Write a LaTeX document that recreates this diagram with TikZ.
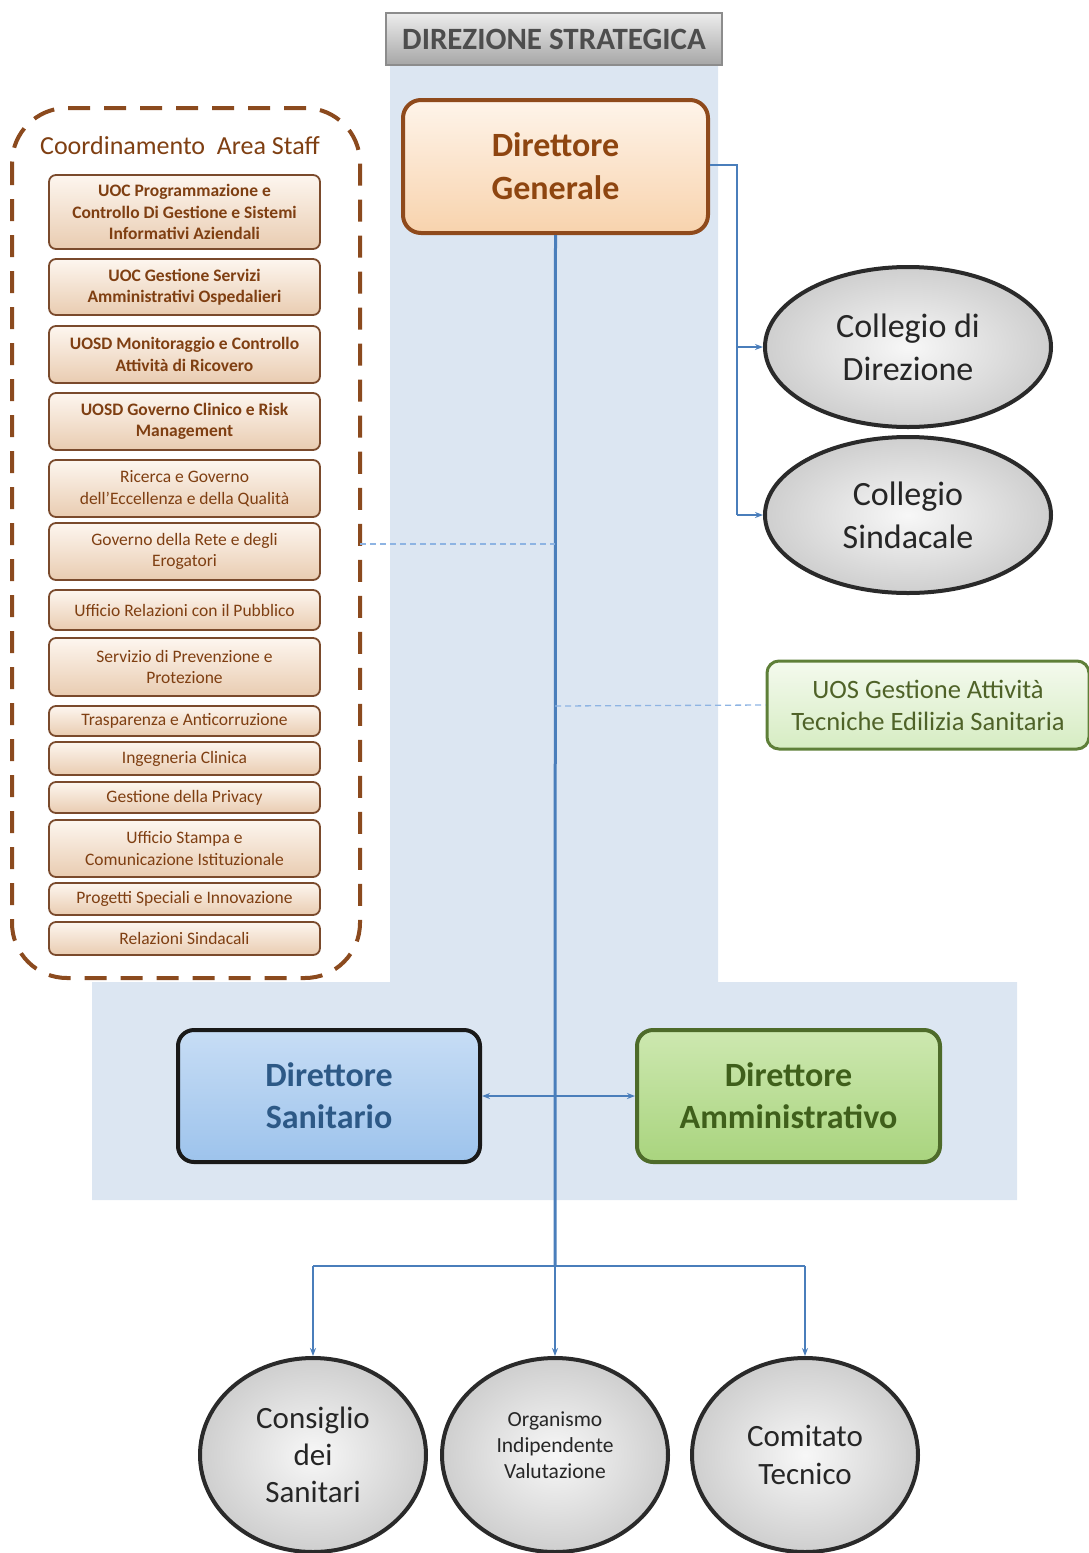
\documentclass[tikz,border=0pt]{standalone}
\usepackage{fontspec}
\setmainfont{Carlito}
\usetikzlibrary{shapes.geometric,arrows.meta}
\definecolor{bgblue}{HTML}{DCE6F2}
\definecolor{lineblue}{HTML}{4A7EBB}
\definecolor{dashblue}{HTML}{8EB4E3}
\definecolor{dgborder}{HTML}{8F4A1C}
\definecolor{dgtop}{HTML}{FEF4EA}
\definecolor{dgbot}{HTML}{F8D3AD}
\definecolor{dgtext}{HTML}{8E4510}
\definecolor{itemtop}{HTML}{FDF6EF}
\definecolor{itembot}{HTML}{E9CCB1}
\definecolor{itemborder}{HTML}{7A4A2C}
\definecolor{itemtext}{HTML}{7F3F12}
\definecolor{staffdash}{HTML}{8B4A1E}
\definecolor{dstop}{HTML}{C7DDF5}
\definecolor{dsbot}{HTML}{9DC3EC}
\definecolor{dstext}{HTML}{2D5986}
\definecolor{datop}{HTML}{CDE8B0}
\definecolor{dabot}{HTML}{A9D47E}
\definecolor{daborder}{HTML}{4E6B2A}
\definecolor{datext}{HTML}{3F5F1B}
\definecolor{uostop}{HTML}{F4FAEE}
\definecolor{uosbot}{HTML}{D6ECC2}
\definecolor{uosborder}{HTML}{5E7F38}
\definecolor{uostext}{HTML}{4F6228}
\definecolor{ellborder}{HTML}{2A2A2A}
\definecolor{titletop}{HTML}{EDEDED}
\definecolor{titlebot}{HTML}{A6A6A6}
\definecolor{titleborder}{HTML}{8C8C8C}
\definecolor{titletext}{HTML}{4D4D4D}
\begin{document}
\begin{tikzpicture}[x=1pt,y=-1pt,
  titlebox/.style={draw=titleborder, line width=2pt, top color=titletop, bottom color=titlebot,
    minimum width=336pt, minimum height=52pt, inner sep=0pt,
    font=\fontsize{31}{34}\selectfont\bfseries, text=titletext},
  dgbox/.style={rounded corners=18pt, draw=dgborder, line width=4pt, top color=dgtop, bottom color=dgbot,
    minimum width=305pt, minimum height=133pt, align=center, inner sep=0pt,
    font=\fontsize{34}{43}\selectfont\bfseries, text=dgtext},
  staffitem/.style={rounded corners=7pt, draw=itemborder, line width=1.8pt, top color=itemtop, bottom color=itembot,
    minimum width=271pt, align=center, inner sep=0pt, text=itemtext,
    font=\fontsize{17.5}{21.5}\selectfont},
  boldtext/.style={font=\fontsize{17.5}{21.5}\selectfont\bfseries},
  ovalnode/.style={ellipse, draw=ellborder, line width=4pt, inner color=gray!6, outer color=gray!38,
    inner sep=0pt, align=center, text=black!85},
  dsbox/.style={rounded corners=16pt, draw=black!90, line width=4pt, top color=dstop, bottom color=dsbot,
    minimum width=302pt, minimum height=132pt, align=center, inner sep=0pt,
    font=\fontsize{34}{42}\selectfont\bfseries, text=dstext},
  dabox/.style={rounded corners=16pt, draw=daborder, line width=4pt, top color=datop, bottom color=dabot,
    minimum width=303pt, minimum height=132pt, align=center, inner sep=0pt,
    font=\fontsize{34}{42}\selectfont\bfseries, text=datext},
  uosbox/.style={rounded corners=12pt, draw=uosborder, line width=3pt, top color=uostop, bottom color=uosbot,
    minimum width=322pt, minimum height=88pt, align=center, inner sep=0pt,
    font=\fontsize{26.5}{32}\selectfont, text=uostext},
  thickconn/.style={draw=lineblue, line width=3pt},
  conn/.style={draw=lineblue, line width=1.5pt},
  arr/.style={conn, -{Stealth[length=8pt,width=6pt]}},
  dashconn/.style={draw=dashblue, line width=1.3pt, dash pattern=on 6pt off 4pt}
]
\useasboundingbox (0,0) rectangle (1089,1553);
% background
\fill[bgblue] (390,65) -- (718,65) -- (718,982) -- (1017,982) -- (1017,1200) -- (92,1200) -- (92,982) -- (390,982) -- cycle;

% title
\node[titlebox] (title) at (554,39) {DIREZIONE STRATEGICA};

% staff area
\draw[staffdash, line width=4pt, dash pattern=on 22pt off 14pt, rounded corners=55pt] (12,108) rectangle (360,978);
\coordinate (staffE) at (360,544);
\node[text=itemtext, font=\fontsize{26}{28}\selectfont] (coord) at (180,146) {Coordinamento\ \ Area Staff};

\node[staffitem, boldtext, minimum height=74pt] (s1) at (184.5,212) {UOC Programmazione e\\Controllo Di Gestione e Sistemi\\Informativi Aziendali};
\node[staffitem, boldtext, minimum height=56pt] (s2) at (184.5,287) {UOC Gestione Servizi\\Amministrativi Ospedalieri};
\node[staffitem, boldtext, minimum height=57pt] (s3) at (184.5,354.5) {UOSD Monitoraggio e Controllo\\Attività di Ricovero};
\node[staffitem, boldtext, minimum height=57pt] (s4) at (184.5,421.5) {UOSD Governo Clinico e Risk\\Management};
\node[staffitem, minimum height=57pt] (s5) at (184.5,488.5) {Ricerca e Governo\\dell’Eccellenza e della Qualità};
\node[staffitem, minimum height=57pt] (s6) at (184.5,551.5) {Governo della Rete e degli\\Erogatori};
\node[staffitem, minimum height=40pt] (s7) at (184.5,610) {Ufficio Relazioni con il Pubblico};
\node[staffitem, minimum height=58pt] (s8) at (184.5,667) {Servizio di Prevenzione e\\Protezione};
\node[staffitem, minimum height=30pt] (s9) at (184.5,721) {Trasparenza e Anticorruzione};
\node[staffitem, minimum height=33pt] (s10) at (184.5,758.5) {Ingegneria Clinica};
\node[staffitem, minimum height=31pt] (s11) at (184.5,797.5) {Gestione della Privacy};
\node[staffitem, minimum height=57pt] (s12) at (184.5,848.5) {Ufficio Stampa e\\Comunicazione Istituzionale};
\node[staffitem, minimum height=32pt] (s13) at (184.5,899) {Progetti Speciali e Innovazione};
\node[staffitem, minimum height=33pt] (s14) at (184.5,938.5) {Relazioni Sindacali};

% direttore generale
\node[dgbox] (dg) at (555.5,166.5) {Direttore\\Generale};

% collegi
\node[ovalnode, minimum width=286pt, minimum height=160pt, font=\fontsize{34}{43}\selectfont] (cd) at (908,347) {Collegio di\\Direzione};
\node[ovalnode, minimum width=286pt, minimum height=156pt, font=\fontsize{34}{43}\selectfont] (cs) at (908,515) {Collegio\\Sindacale};

% UOS
\node[uosbox] (uos) at (928,705) {UOS Gestione Attività\\Tecniche Edilizia Sanitaria};

% direttori
\node[dsbox] (ds) at (329,1096) {Direttore\\Sanitario};
\node[dabox] (da) at (788.5,1096) {Direttore\\Amministrativo};

% bottom ovals
\node[ovalnode, minimum width=226pt, minimum height=194pt, font=\fontsize{31}{37}\selectfont] (cds) at (313,1455) {Consiglio\\dei\\Sanitari};
\node[ovalnode, minimum width=226pt, minimum height=194pt] (oiv) at (555,1455) {};
\node[align=center, inner sep=0pt, text=black!85, font=\fontsize{21.5}{26}\selectfont] (oivtext) at (555,1445) {Organismo\\Indipendente\\Valutazione};
\node[ovalnode, minimum width=226pt, minimum height=194pt, font=\fontsize{31}{38}\selectfont] (ct) at (805,1455) {Comitato\\Tecnico};

% connectors
\coordinate (j) at (555,1266);
\coordinate (dgR) at (737,165);
\coordinate (mid1) at (555,544);
\coordinate (mid2) at (555,706);
\draw[thickconn] (dg.south) -- (j);
\draw[conn] (dg.east |- dgR) -- (dgR) -- (dgR |- cs.west);
\draw[arr] (dgR |- cd.west) -- (cd.west);
\draw[arr] (dgR |- cs.west) -- (cs.west);
\draw[dashconn] (staffE) -- (mid1);
\draw[dashconn] (mid2) -- (uos.west);
\draw[conn, {Stealth[length=8pt,width=6pt]}-{Stealth[length=8pt,width=6pt]}] (ds.east) -- (da.west);
\draw[conn] (cds.north |- j) -- (ct.north |- j);
\draw[arr] (cds.north |- j) -- (cds.north);
\draw[arr] (j) -- (oiv.north);
\draw[arr] (ct.north |- j) -- (ct.north);
\end{tikzpicture}
\end{document}
